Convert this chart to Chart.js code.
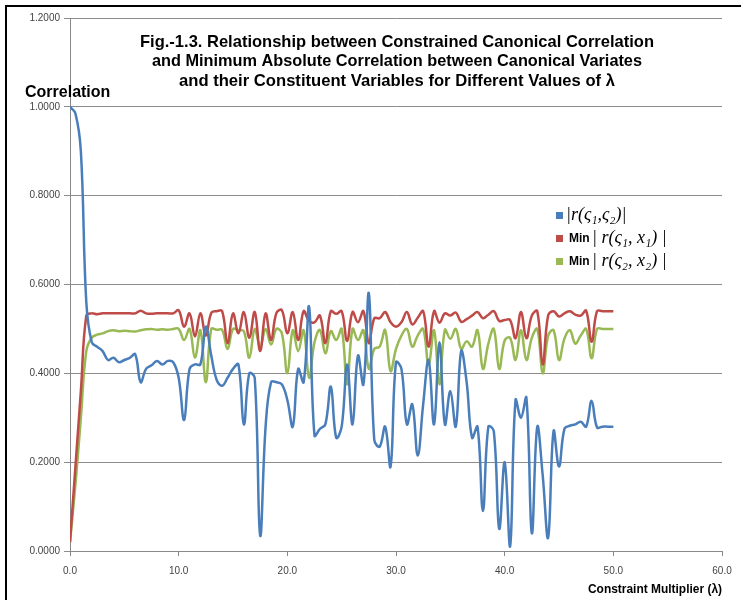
<!DOCTYPE html>
<html>
<head>
<meta charset="utf-8">
<script src="https://cdn.jsdelivr.net/npm/chart.js@4.4.1/dist/chart.umd.min.js"></script>
<style>
  html, body { margin: 0; padding: 0; background: #fff; }
  #wrap { position: relative; width: 741px; height: 600px; overflow: hidden; }
  #frame { position: absolute; left: 5px; top: 5px; right: 0; bottom: 0;
           border-top: 2px solid #000; border-left: 2px solid #000; }
  #myChart { position: absolute; left: 0; top: 0; }
</style>
</head>
<body>
<div id="wrap">
  <div id="frame"></div>
  <canvas id="myChart" width="741" height="600"></canvas>
</div>
<script>
/* values, lambda step 0.5 */
const lambdas = [0, 0.5, 1, 1.5, 2, 2.5, 3, 3.5, 4, 4.5, 5, 5.5, 6, 6.5, 7, 7.5, 8, 8.5, 9, 9.5,
  10, 10.5, 11, 11.5, 12, 12.5, 13, 13.5, 14, 14.5, 15, 15.5, 16, 16.5, 17, 17.5, 18, 18.5, 19, 19.5,
  20, 20.5, 21, 21.5, 22, 22.5, 23, 23.5, 24, 24.5, 25, 25.5, 26, 26.5, 27, 27.5, 28, 28.5, 29, 29.5,
  30, 30.5, 31, 31.5, 32, 32.5, 33, 33.5, 34, 34.5, 35, 35.5, 36, 36.5, 37, 37.5, 38, 38.5, 39, 39.5,
  40, 40.5, 41, 41.5, 42, 42.5, 43, 43.5, 44, 44.5, 45, 45.5, 46, 46.5, 47, 47.5, 48, 48.5, 49, 49.5, 50];

const canonCorr = [1.0, 0.985, 0.9, 0.56, 0.47, 0.46, 0.45, 0.43, 0.435, 0.425, 0.43, 0.435, 0.443, 0.38, 0.41, 0.418, 0.428, 0.42, 0.428, 0.425,
  0.39, 0.295, 0.41, 0.42, 0.42, 0.505, 0.44, 0.385, 0.372, 0.39, 0.41, 0.42, 0.285, 0.40, 0.39, 0.035, 0.28, 0.38, 0.38, 0.375,
  0.34, 0.28, 0.41, 0.38, 0.55, 0.26, 0.275, 0.285, 0.37, 0.255, 0.28, 0.42, 0.285, 0.44, 0.375, 0.58, 0.25, 0.235, 0.28, 0.19,
  0.425, 0.41, 0.285, 0.33, 0.215, 0.33, 0.43, 0.285, 0.47, 0.285, 0.36, 0.28, 0.45, 0.38, 0.255, 0.28, 0.09, 0.28, 0.27, 0.05,
  0.2, 0.01, 0.34, 0.30, 0.345, 0.04, 0.28, 0.17, 0.03, 0.27, 0.19, 0.275, 0.282, 0.285, 0.291, 0.28, 0.338, 0.278, 0.28, 0.28, 0.28];

const minCorr1 = [0.02, 0.19, 0.36, 0.53, 0.535, 0.533, 0.535, 0.535, 0.535, 0.535, 0.535, 0.535, 0.535, 0.541, 0.535, 0.534, 0.535, 0.535, 0.535, 0.535,
  0.542, 0.505, 0.535, 0.483, 0.535, 0.485, 0.536, 0.54, 0.54, 0.468, 0.535, 0.49, 0.538, 0.48, 0.538, 0.45, 0.535, 0.475, 0.536, 0.542,
  0.49, 0.538, 0.475, 0.54, 0.518, 0.515, 0.53, 0.468, 0.54, 0.534, 0.54, 0.473, 0.538, 0.515, 0.54, 0.468, 0.524, 0.524, 0.538, 0.515,
  0.505, 0.515, 0.538, 0.51, 0.525, 0.54, 0.46, 0.54, 0.514, 0.535, 0.53, 0.537, 0.516, 0.522, 0.53, 0.538, 0.524, 0.532, 0.54, 0.518,
  0.52, 0.52, 0.479, 0.538, 0.479, 0.53, 0.54, 0.42, 0.53, 0.54, 0.528, 0.535, 0.54, 0.532, 0.53, 0.541, 0.471, 0.54, 0.54, 0.54, 0.54];

const minCorr2 = [0.02, 0.15, 0.30, 0.45, 0.48, 0.487, 0.49, 0.495, 0.497, 0.495, 0.496, 0.495, 0.494, 0.497, 0.499, 0.5, 0.498, 0.499, 0.498, 0.5,
  0.5, 0.475, 0.5, 0.435, 0.497, 0.38, 0.5, 0.498, 0.498, 0.455, 0.5, 0.497, 0.495, 0.435, 0.5, 0.46, 0.5, 0.465, 0.5, 0.49,
  0.40, 0.497, 0.45, 0.497, 0.39, 0.47, 0.4975, 0.445, 0.495, 0.475, 0.5, 0.375, 0.5, 0.475, 0.497, 0.41, 0.455, 0.46, 0.4975, 0.405,
  0.455, 0.485, 0.5, 0.46, 0.485, 0.5, 0.42, 0.497, 0.375, 0.498, 0.478, 0.5, 0.455, 0.472, 0.46, 0.497, 0.41, 0.467, 0.5, 0.41,
  0.474, 0.48, 0.43, 0.497, 0.43, 0.48, 0.5, 0.4, 0.485, 0.497, 0.43, 0.478, 0.497, 0.467, 0.485, 0.5, 0.434, 0.5, 0.5, 0.5, 0.5];

const titleLines = [
  'Fig.-1.3. Relationship between Constrained Canonical Correlation',
  'and Minimum Absolute Correlation between Canonical Variates',
  'and their Constituent Variables for Different Values of \u03bb'
];
const yTitle = 'Correlation';
const xTitle = 'Constraint Multiplier (\u03bb)';

const colors = ['#4a7ebb', '#be4b48', '#98b954'];

function pts(ys){
  return ys.map((y, i) => ({x: lambdas[i], y: y}));
}

// titles, axis captions and the legend sit inside the plot, so draw them by hand
const textPlugin = {
  id: 'texts',
  afterDraw: chart => {
    const ctx = chart.ctx;
    ctx.save();
    ctx.fillStyle = '#000';
    ctx.textBaseline = 'middle';

    ctx.textAlign = 'center';
    ctx.font = 'bold 17px "Liberation Sans"';
    const widths = [514, 490, 436];
    titleLines.forEach((t, i) => ctx.fillText(t, 397, 42 + i * 19.5, widths[i]));

    ctx.textAlign = 'left';
    ctx.font = 'bold 16px "Liberation Sans"';
    ctx.fillText(yTitle, 25, 93, 88);

    ctx.textAlign = 'right';
    ctx.font = 'bold 12px "Liberation Sans"';
    ctx.fillText(xTitle, 722, 590, 134);

    // legend
    const rows = [
      {pre: '', math: '|r(\u03c2\u2081,\u03c2\u2082)|'},
      {pre: 'Min', math: '| r(\u03c2\u2081, x\u2081) |'},
      {pre: 'Min', math: '| r(\u03c2\u2082, x\u2082) |'}
    ];
    ctx.textAlign = 'left';
    rows.forEach((r, i) => {
      const y = 215 + i * 23;
      ctx.fillStyle = colors[i];
      ctx.fillRect(556, y - 3, 7, 7);
      ctx.fillStyle = '#000';
      let x = 566;
      if (r.pre) {
        ctx.font = 'bold 12px "Liberation Sans"';
        ctx.fillText(r.pre, 569, y + 1);
        x = 592;
      }
      ctx.font = 'italic 18px "Liberation Serif"';
      ctx.fillText(r.math, x, y, r.pre ? 76 : 66);
    });
    ctx.restore();
  }
};

const ctx = document.getElementById('myChart');
const myChart = new Chart(ctx, {
  type: 'line',
  plugins: [textPlugin],
  data: {
    datasets: [
      {label: 'canon', data: pts(canonCorr), borderColor: colors[0]},
      {label: 'min1', data: pts(minCorr1), borderColor: colors[1]},
      {label: 'min2', data: pts(minCorr2), borderColor: colors[2]}
    ]
  },
  options: {
    responsive: false,
    animation: false,
    events: [],
    elements: {
      line: {borderWidth: 2.5, tension: 0.4, fill: false},
      point: {radius: 0}
    },
    layout: {padding: {top: 18, right: 19, bottom: 0, left: 0}},
    plugins: {legend: {display: false}, title: {display: false}, tooltip: {enabled: false}},
    scales: {
      x: {
        type: 'linear',
        min: 0, max: 60,
        afterFit: s => { s.height = 49; },
        border: {color: '#888', width: 1},
        grid: {drawOnChartArea: false, drawTicks: true, tickLength: 5, color: '#888'},
        ticks: {stepSize: 10, padding: 9, color: '#444', font: {family: 'Liberation Sans', size: 10},
          callback: v => v.toFixed(1)}
      },
      y: {
        min: 0, max: 1.2,
        afterFit: s => { s.width = 70; },
        border: {color: '#888', width: 1},
        grid: {color: '#8c8c8c', lineWidth: 1, tickLength: 6},
        ticks: {stepSize: 0.2, padding: 4, color: '#444', font: {family: 'Liberation Sans', size: 10},
          callback: v => v.toFixed(4)}
      }
    }
  }
});
</script>
</body>
</html>
